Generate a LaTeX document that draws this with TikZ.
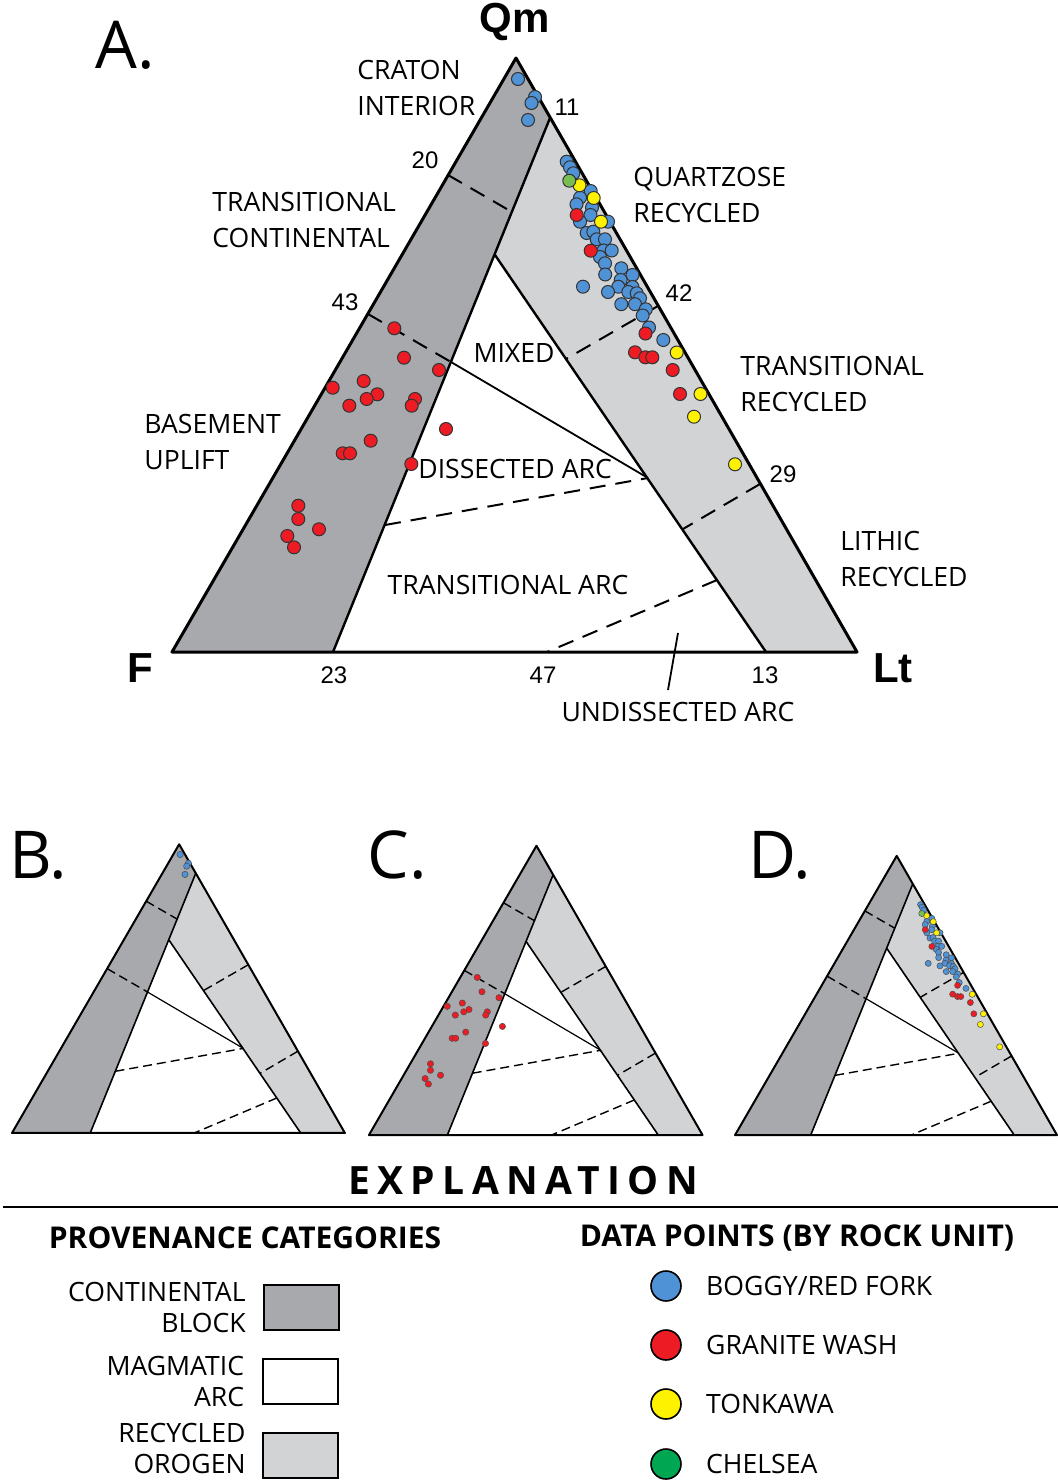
\documentclass[tikz,border=0pt]{standalone}
\usepackage{fontspec}
\setmainfont{Open Sans}
\newfontfamily\arialfont{Liberation Sans}
\usetikzlibrary{positioning}
\definecolor{contColor}{RGB}{167,169,172}
\definecolor{recyColor}{RGB}{209,211,212}
\definecolor{boggyColor}{RGB}{79,146,214}
\definecolor{graniteColor}{RGB}{237,28,36}
\definecolor{tonkawaColor}{RGB}{255,242,0}
\definecolor{chelseaColor}{RGB}{0,166,81}
\definecolor{chelseaPt}{RGB}{120,190,80}
\tikzset{
  edge/.style={line width=1.5pt,line join=round},
  bound/.style={line width=1.2pt},
  split/.style={line width=1pt,dash pattern=on 8pt off 5pt},
  mix/.style={line width=0.9pt},
  dot/.style={draw=black!80,line width=0.5pt},
  lbl/.style={font=\fontsize{13.3}{18}\selectfont,align=left,inner sep=0pt},
  keylbl/.style={font=\fontsize{13.3}{15.5}\selectfont,align=right,inner sep=0pt},
  num/.style={font=\arialfont\fontsize{12}{13}\selectfont,inner sep=0pt},
  apex/.style={font=\arialfont\bfseries\fontsize{21}{24}\selectfont,inner sep=0pt},
  panel/.style={font=\fontsize{33}{36}\selectfont,inner sep=0pt},
  head/.style={font=\bfseries\fontsize{15}{18}\selectfont,inner sep=0pt},
  keybox/.style={draw,line width=1pt,minimum width=37.5pt,minimum height=22.5pt},
  keydot/.style={circle,draw,line width=0.8pt,minimum size=15pt,inner sep=0pt},
  small/.style={edge/.style={line width=1pt,line join=round},bound/.style={line width=0.8pt},
    split/.style={line width=0.7pt,dash pattern=on 4.5pt off 2.5pt},mix/.style={line width=0.6pt},
    dot/.style={draw=black!70,line width=0.25pt}},
}
% data points (picture A coordinates)
\newcommand{\cratonpts}{518/79,535/97,531.5/103,528/120}
\newcommand{\recyblue}{566.7/161.7,570/167.3,573.3/173.3,590.7/191,580/197.7,576.5/204.3,592/207.5,590.5/215,580/221.7,608/221.7,586.7/233,593.3/231.7,596.7/239.3,605/239.3,603.5/250.5,611.7/250.5,600/257,605/263.3,621.3/268.3,632.5/275,605.2/274.5,620.7/280,583/286.7,618.3/286.7,632.5/287,608/292,628.3/292,636.7/293.3,640/298.3,621.3/304.2,635/304.2,645.8/309.3,642.7/315.5,649/327.5,663.3/340}
\newcommand{\recyred}{576.7/215,590.7/250.7,645.5/333.5,635/352.3,645.3/357.3,652.3/357.3,672.7/370,680/394}
\newcommand{\recyyellow}{579.5/185.3,593.7/198,601/221.7,676.7/352.5,700.5/394,694/416.7,735/464.3}
\newcommand{\recygreen}{569.3/180.7}
\newcommand{\contred}{394.3/328.3,404/357.7,439/370,332.7/387.7,363.7/381,377.3/394.3,366.7/399,349.3/405.7,415/399,411.7/405.7,446/429,370.7/440.7,342.7/453.3,350/453.3,411.3/464,298.3/505.7,298.3/519,319/529.3,287.3/536,294/547.3}
\newcommand{\plotpts}[2]{\foreach \px/\py in #1 {\filldraw[dot,fill=#2] (\px,\py) circle[radius=6.5];}}
\newcommand{\qmflt}{%
  \coordinate (Qm) at (516,58);
  \coordinate (F) at (172,652);
  \coordinate (Lt) at (857,652);
  \coordinate (c11) at (550,118);% continental block top
  \coordinate (c23) at (333,652);% continental block base
  \coordinate (mA) at (495,255);% apex of magmatic arc
  \coordinate (r13) at (766,652);% recycled orogen base
  \coordinate (s20) at (448,175); \coordinate (t20) at (512,212);
  \coordinate (s43) at (368,314); \coordinate (t43) at (451,362);
  \coordinate (s42) at (658,306); \coordinate (t42) at (566,359);
  \coordinate (s29) at (760,484); \coordinate (t29) at (683,529);
  \coordinate (mX) at (648,478);
  \coordinate (dA) at (385,525);
  \coordinate (uA) at (717,580); \coordinate (uB) at (547,652);
  \fill[contColor] (Qm) -- (c11) -- (c23) -- (F) -- cycle;
  \fill[recyColor] (c11) -- (Lt) -- (r13) -- (mA) -- cycle;
  \draw[split] (s20) -- (t20);
  \draw[split] (s43) -- (t43);
  \draw[mix] (t43) -- (mX);
  \draw[split] (s42) -- (t42);
  \draw[split] (s29) -- (t29);
  \draw[split] (dA) -- (mX);
  \draw[split] (uA) -- (uB);
  \draw[bound] (c11) -- (c23);
  \draw[bound] (mA) -- (r13);
  \draw[edge] (F) -- (Qm) -- (Lt) -- cycle;
}
\begin{document}
\begin{tikzpicture}[x=0.5pt,y=-0.5pt]
\useasboundingbox (0,0) rectangle (1058,1483);
% panel A
\qmflt
\draw[mix] (678,633) -- (668,690);% leader
\plotpts{\cratonpts}{boggyColor}
\plotpts{\contred}{graniteColor}
\plotpts{\recyblue}{boggyColor}
\plotpts{\recyred}{graniteColor}
\plotpts{\recyyellow}{tonkawaColor}
\plotpts{\recygreen}{chelseaPt}
\node[panel] (labA) at (125,45) {A.};
\node[apex] (apQm) at (515,22) {Qm};
\node[apex] (apF) at (140,668) {F};
\node[apex] (apLt) at (893,668) {Lt};
\node[lbl,anchor=west] (craton) at (357,88) {CRATON\\INTERIOR};
\node[lbl,anchor=west] (trcont) at (212,220) {TRANSITIONAL\\CONTINENTAL};
\node[lbl,anchor=west] (basement) at (144,442) {BASEMENT\\UPLIFT};
\node[lbl,anchor=west] (quartz) at (633,195) {QUARTZOSE\\RECYCLED};
\node[lbl,anchor=west] (trrecy) at (740,384) {TRANSITIONAL\\RECYCLED};
\node[lbl,anchor=west] (lithic) at (840,559) {LITHIC\\RECYCLED};
\node[lbl] (mixed) at (514,353) {MIXED};
\node[lbl,anchor=west] (dissect) at (418,469) {DISSECTED ARC};
\node[lbl] (trarc) at (508,585) {TRANSITIONAL ARC};
\node[lbl] (undis) at (678,712) {UNDISSECTED ARC};
\node[num] (n11) at (567,107) {11};
\node[num] (n20) at (425,160) {20};
\node[num] (n43) at (345,302) {43};
\node[num] (n42) at (679,293) {42};
\node[num] (n29) at (783,474) {29};
\node[num] (n23) at (334,675) {23};
\node[num] (n47) at (543,675) {47};
\node[num] (n13) at (765,675) {13};
% panels B, C, D
\begin{scope}[shift={(-71.6,816.1)},scale=0.486,small]
  \qmflt
  \plotpts{\cratonpts}{boggyColor}
\end{scope}
\begin{scope}[shift={(285.2,817.5)},scale=0.487,small]
  \qmflt
  \plotpts{\contred}{graniteColor}
\end{scope}
\begin{scope}[shift={(654.2,828.6)},scale=0.47,small]
  \qmflt
  \plotpts{\recyblue}{boggyColor}
  \plotpts{\recyred}{graniteColor}
  \plotpts{\recyyellow}{tonkawaColor}
  \plotpts{\recygreen}{chelseaPt}
\end{scope}
\node[panel] (labB) at (38,855) {B.};
\node[panel] (labC) at (397,855) {C.};
\node[panel] (labD) at (780,855) {D.};
% explanation
\node[font=\bfseries\fontsize{19.5}{22}\selectfont\addfontfeature{LetterSpace=19},inner sep=0pt] (expl) at (523,1181) {EXPLANATION};
\draw[line width=1pt] (3,1207) -- (1058,1207);
\node[head] (provhead) at (245,1238) {PROVENANCE CATEGORIES};
\node[head] (datahead) at (797,1238) {DATA POINTS (BY ROCK UNIT)};
\node[keybox,fill=contColor] (contKey) at (301.5,1307.5) {};
\node[keybox,fill=white] (magKey) at (300,1381) {};
\node[keybox,fill=recyColor] (recyKey) at (300,1455) {};
\node[keylbl,left=8.5pt of contKey] (contTxt) {CONTINENTAL\\BLOCK};
\node[keylbl,left=8.5pt of magKey] (magTxt) {MAGMATIC\\ARC};
\node[keylbl,anchor=south east] (recyTxt) at (246,1474) {RECYCLED\\OROGEN};
\node[keydot,fill=boggyColor] (boggyKey) at (666,1286) {};
\node[keydot,fill=graniteColor] (graniteKey) at (666,1345) {};
\node[keydot,fill=tonkawaColor] (tonkawaKey) at (666,1404) {};
\node[keydot,fill=chelseaColor] (chelseaKey) at (666,1464) {};
\node[lbl,right=12pt of boggyKey] (boggyTxt) {BOGGY/RED FORK};
\node[lbl,right=12pt of graniteKey] (graniteTxt) {GRANITE WASH};
\node[lbl,right=12pt of tonkawaKey] (tonkawaTxt) {TONKAWA};
\node[lbl,right=12pt of chelseaKey] (chelseaTxt) {CHELSEA};
\end{tikzpicture}
\end{document}
